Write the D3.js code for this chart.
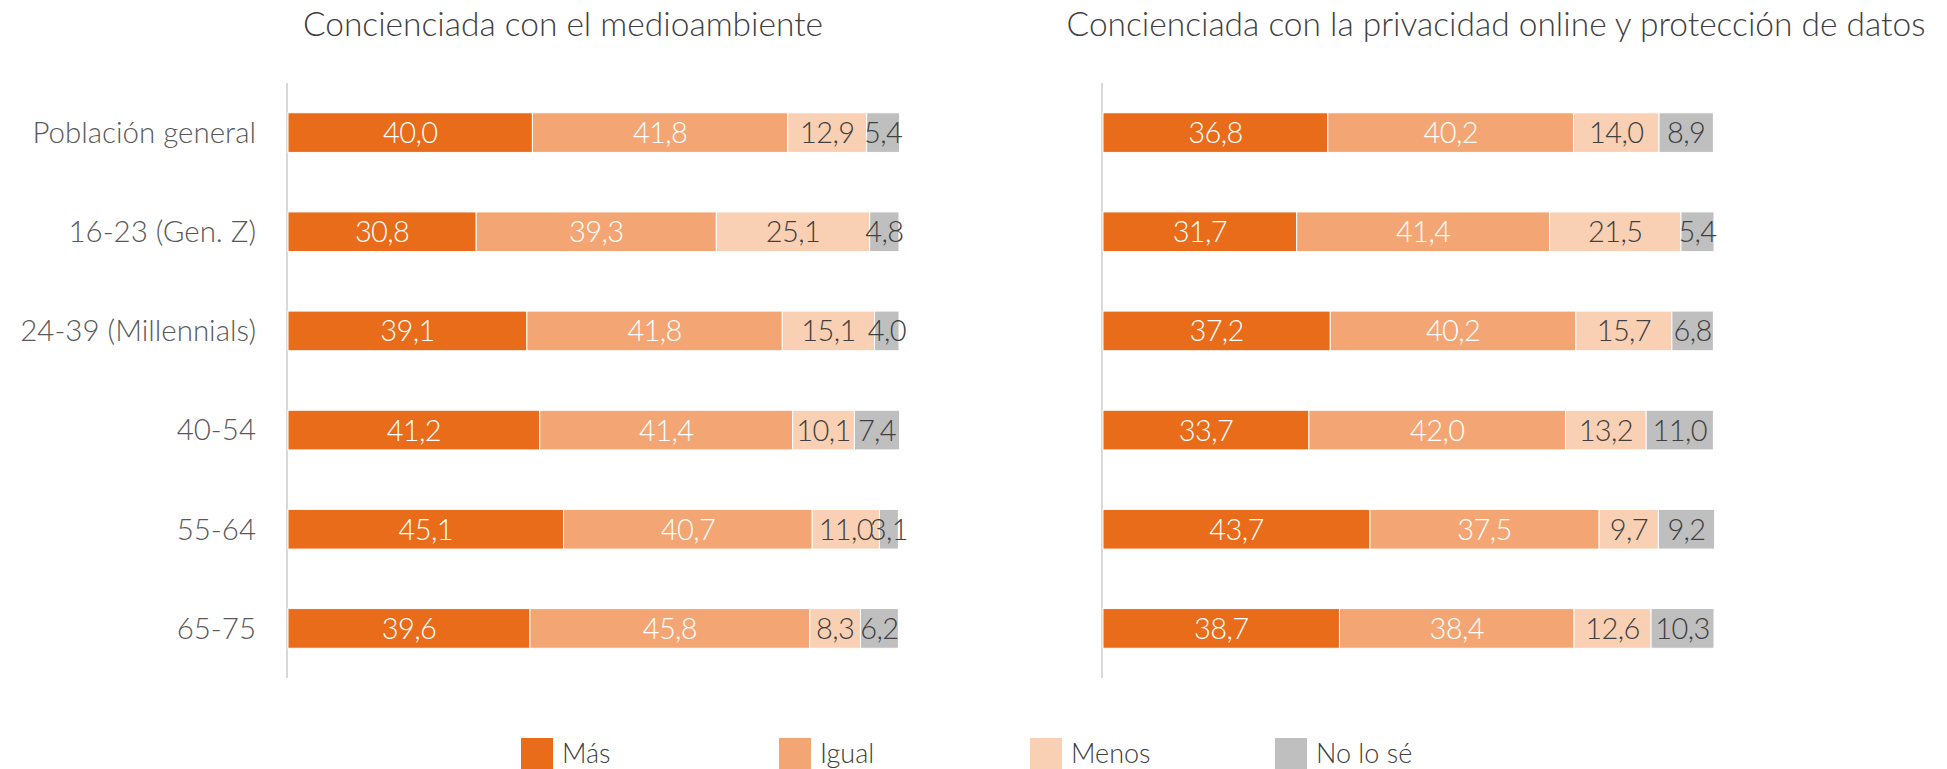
<!DOCTYPE html>
<html>
<head>
<meta charset="utf-8">
<script src="https://cdn.jsdelivr.net/npm/d3@7"></script>
<style>
  html, body { margin: 0; padding: 0; background: #ffffff; }
  svg { display: block; }
  text { font-family: Lato, "Open Sans", sans-serif; font-weight: 300; }
</style>
</head>
<body>
<svg id="chart" width="1947" height="769"></svg>
<script>
// Age groups (rows)
const categories = ["Población general", "16-23 (Gen. Z)", "24-39 (Millennials)", "40-54", "55-64", "65-75"];
// Answer options (stack order)
const seriesNames = ["Más", "Igual", "Menos", "No lo sé"];
const seriesColors = ["#E86C19", "#F3A673", "#F9D0B4", "#BFBFBF"];
const labelColors = ["#FFFFFF", "#FFFFFF", "#404040", "#404040"];

// Panel 1: medioambiente
const titleEnv = "Concienciada con el medioambiente";
const envMas   = [40.0, 30.8, 39.1, 41.2, 45.1, 39.6];
const envIgual = [41.8, 39.3, 41.8, 41.4, 40.7, 45.8];
const envMenos = [12.9, 25.1, 15.1, 10.1, 11.0, 8.3];
const envNoSe  = [5.4, 4.8, 4.0, 7.4, 3.1, 6.2];

// Panel 2: privacidad online
const titlePriv = "Concienciada con la privacidad online y protección de datos";
const privMas   = [36.8, 31.7, 37.2, 33.7, 43.7, 38.7];
const privIgual = [40.2, 41.4, 40.2, 42.0, 37.5, 38.4];
const privMenos = [14.0, 21.5, 15.7, 13.2, 9.7, 12.6];
const privNoSe  = [8.9, 5.4, 6.8, 11.0, 9.2, 10.3];

const fmt = v => v.toFixed(1).replace(".", ",");

const svg = d3.select("#chart");

function buildRows(series) {
  return categories.map((c, i) => {
    const row = { cat: c };
    seriesNames.forEach((s, k) => row[s] = series[k][i]);
    return row;
  });
}

function drawPanel(opts) {
  const rows = buildRows(opts.series);
  const stack = d3.stack().keys(seriesNames)(rows);

  const x = d3.scaleLinear().domain([0, 100]).range([opts.x0, opts.x1]);
  const y = d3.scaleBand().domain(categories).range([83, 678])
    .paddingInner(0.6).paddingOuter(0.3);

  const g = svg.append("g");

  // title
  g.append("text")
    .attr("x", opts.titleX)
    .attr("y", 36)
    .attr("text-anchor", "middle")
    .attr("font-size", opts.titleSize)
    .attr("fill", "#404040")
    .text(opts.title);

  // vertical baseline
  g.append("line")
    .attr("x1", opts.x0 - 1).attr("x2", opts.x0 - 1)
    .attr("y1", 83).attr("y2", 678)
    .attr("stroke", "#D9D9D9").attr("stroke-width", 2);

  // category labels
  if (opts.showCats) {
    g.selectAll("text.cat").data(categories).join("text")
      .attr("class", "cat")
      .attr("x", opts.x0 - 32)
      .attr("y", d => y(d) + y.bandwidth() / 2)
      .attr("dy", "0.35em")
      .attr("text-anchor", "end")
      .attr("font-size", 29.5)
      .attr("fill", "#595959")
      .text(d => d);
  }

  const layers = g.selectAll("g.layer").data(stack).join("g")
    .attr("class", "layer");

  layers.each(function(layer, k) {
    const lg = d3.select(this);
    lg.selectAll("rect").data(layer).join("rect")
      .attr("x", d => x(d[0]))
      .attr("y", d => y(d.data.cat))
      .attr("width", d => x(d[1]) - x(d[0]))
      .attr("height", y.bandwidth())
      .attr("fill", seriesColors[k])
      .attr("stroke", "#FFFFFF")
      .attr("stroke-width", 1);
  });

  layers.each(function(layer, k) {
    const lg = d3.select(this);
    lg.selectAll("text").data(layer).join("text")
      .attr("x", d => (x(d[0]) + x(d[1])) / 2)
      .attr("y", d => y(d.data.cat) + y.bandwidth() / 2)
      .attr("dy", "0.36em")
      .attr("text-anchor", "middle")
      .attr("font-size", 29)
      .attr("letter-spacing", -0.6)
      .attr("fill", labelColors[k])
      .text(d => fmt(d.data[seriesNames[k]]));
  });
}

drawPanel({
  series: [envMas, envIgual, envMenos, envNoSe],
  x0: 288, x1: 899, title: titleEnv, titleX: 563, titleSize: 33.5, showCats: true
});
drawPanel({
  series: [privMas, privIgual, privMenos, privNoSe],
  x0: 1103, x1: 1714, title: titlePriv, titleX: 1496, titleSize: 33.5, showCats: false
});

// legend
const legendX = [521, 779, 1030, 1275];
const legend = svg.append("g").selectAll("g").data(seriesNames).join("g")
  .attr("transform", (d, i) => `translate(${legendX[i]},738)`);
legend.append("rect")
  .attr("width", 32).attr("height", 31)
  .attr("fill", (d, i) => seriesColors[i]);
legend.append("text")
  .attr("x", 41).attr("y", 16).attr("dy", "0.35em")
  .attr("font-size", 27)
  .attr("fill", "#404040")
  .text(d => d);
</script>
</body>
</html>
